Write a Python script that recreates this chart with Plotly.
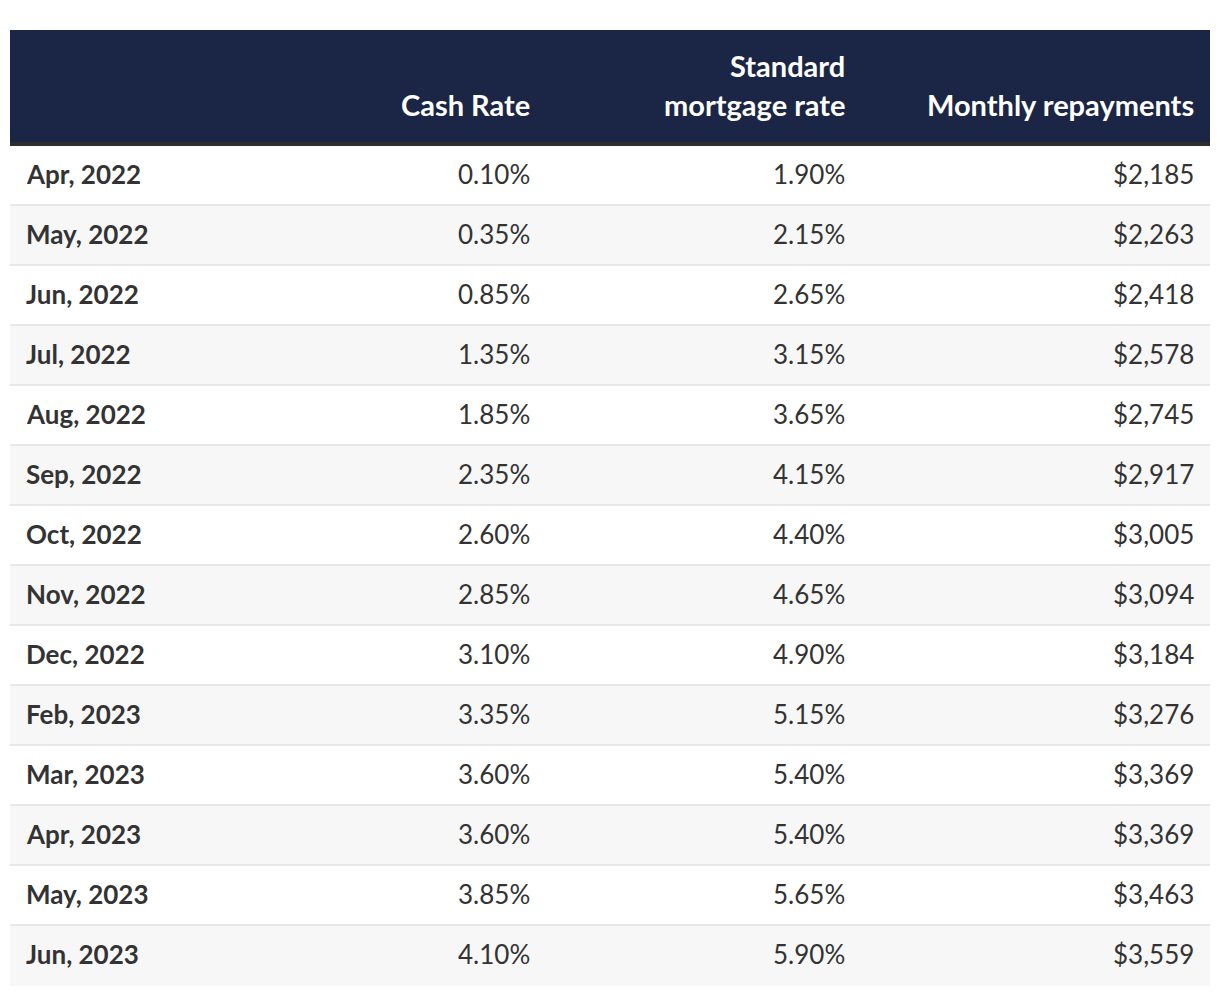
import plotly.graph_objects as go

# ---- data ----
months = ["Apr, 2022", "May, 2022", "Jun, 2022", "Jul, 2022", "Aug, 2022", "Sep, 2022",
          "Oct, 2022", "Nov, 2022", "Dec, 2022", "Feb, 2023", "Mar, 2023", "Apr, 2023",
          "May, 2023", "Jun, 2023"]
cash_rate = [0.10, 0.35, 0.85, 1.35, 1.85, 2.35, 2.60, 2.85, 3.10, 3.35, 3.60, 3.60, 3.85, 4.10]
mortgage_rate = [1.90, 2.15, 2.65, 3.15, 3.65, 4.15, 4.40, 4.65, 4.90, 5.15, 5.40, 5.40, 5.65, 5.90]
repayments = [2185, 2263, 2418, 2578, 2745, 2917, 3005, 3094, 3184, 3276, 3369, 3369, 3463, 3559]
headers = ["", "Cash Rate", "Standard<br>mortgage rate", "Monthly repayments"]

# ---- style ----
FONT = "Lato"
NAVY = "#1b2646"
TEXT = "#333333"
W = 1200
col_right = [None, 536, 851, 1200]
pad = 14
px = 60.0  # pixels per row unit
header_h = 112 / px
border_h = 4 / px
sep_h = 2 / px
y_top = -0.5 - header_h - border_h
n = len(months)

shapes = []
annotations = []

# header
shapes.append(dict(type="rect", xref="x", yref="y", x0=0, x1=W, y0=y_top, y1=-0.5 - border_h,
                   fillcolor=NAVY, line=dict(width=0), layer="below"))
shapes.append(dict(type="rect", xref="x", yref="y", x0=0, x1=W, y0=-0.5 - border_h, y1=-0.5,
                   fillcolor="#2d2d2d", line=dict(width=0), layer="below"))

line2_y = y_top + (104 - 30) / px
line_gap = 39 / px
for c, h in enumerate(headers):
    if not h:
        continue
    parts = h.split("<br>")
    for k, part in enumerate(reversed(parts)):
        annotations.append(dict(xref="x", yref="y", x=col_right[c] - pad, y=line2_y - k * line_gap,
                                text=part, showarrow=False, xanchor="right", yanchor="middle",
                                font=dict(family=FONT, size=29, color="white", weight="bold")))

# rows
for i in range(n):
    fill = "#ffffff" if i % 2 == 0 else "#f7f7f7"
    last = i == n - 1
    shapes.append(dict(type="rect", xref="x", yref="y", x0=0, x1=W, y0=i - 0.5,
                       y1=i + 0.5 - (0 if last else sep_h),
                       fillcolor=fill, line=dict(width=0), layer="below"))
    if not last:
        shapes.append(dict(type="rect", xref="x", yref="y", x0=0, x1=W, y0=i + 0.5 - sep_h,
                           y1=i + 0.5, fillcolor="#e8e8e8", line=dict(width=0), layer="below"))
    ty = i - 0.04
    annotations.append(dict(xref="x", yref="y", x=14, y=ty, text=months[i], showarrow=False,
                            xanchor="left", yanchor="middle",
                            font=dict(family=FONT, size=26, color=TEXT, weight="bold")))
    vals = [f"{cash_rate[i]:.2f}%", f"{mortgage_rate[i]:.2f}%", f"${repayments[i]:,}"]
    for c, v in enumerate(vals, start=1):
        annotations.append(dict(xref="x", yref="y", x=col_right[c] - pad, y=ty, text=v,
                                showarrow=False, xanchor="right", yanchor="middle",
                                font=dict(family=FONT, size=26, color=TEXT)))

fig = go.Figure()
fig.add_trace(go.Scatter(x=[0, W], y=[0, 0], mode="markers", marker=dict(opacity=0),
                         hoverinfo="skip", showlegend=False))
# page body has an 8px default margin; compensate so the table sits at (10, 30)
fig.update_layout(
    width=1212, height=986,
    margin=dict(l=2, r=10, t=22, b=8),
    paper_bgcolor="white", plot_bgcolor="white",
    xaxis=dict(range=[0, W], visible=False, fixedrange=True),
    yaxis=dict(range=[n - 0.5, y_top], visible=False, fixedrange=True),
    shapes=shapes, annotations=annotations, showlegend=False,
)
fig.write_html("out.html")
